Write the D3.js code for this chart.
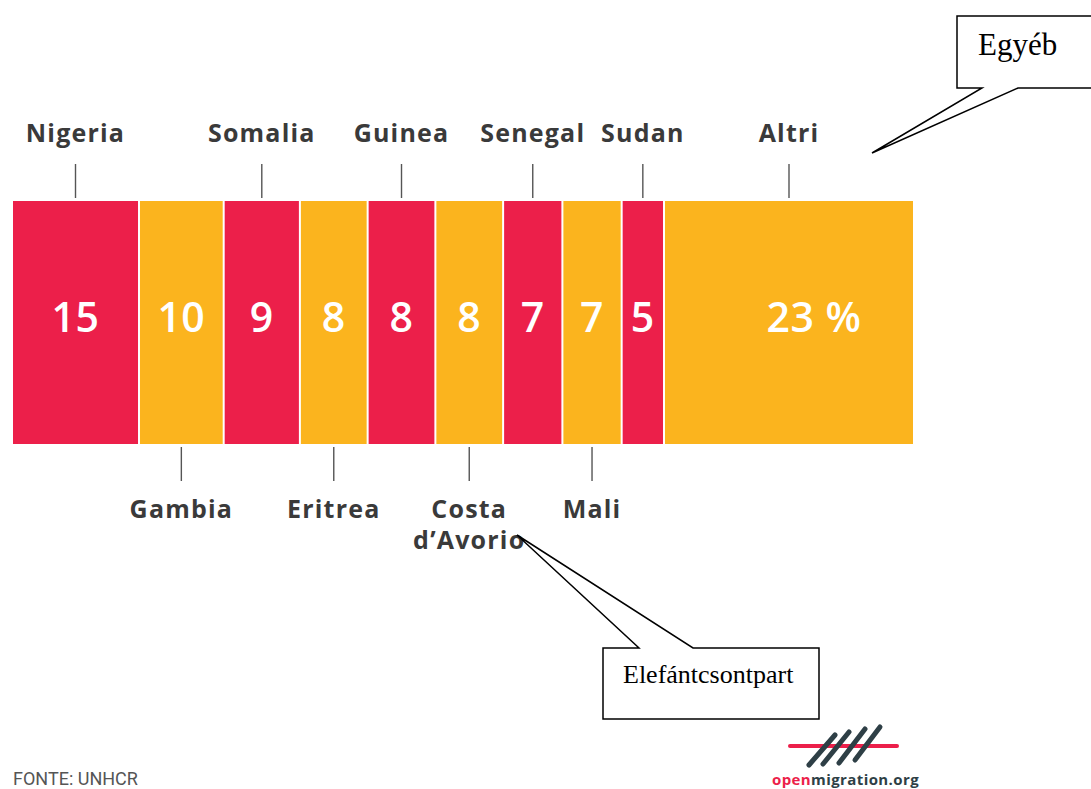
<!DOCTYPE html>
<html>
<head>
<meta charset="utf-8">
<script src="https://cdn.jsdelivr.net/npm/d3@7"></script>
<style>
  html, body { margin: 0; padding: 0; background: #fff; }
  svg { display: block; }
</style>
</head>
<body>
<script>
// ---- DATA ----
const categories = ["Nigeria", "Gambia", "Somalia", "Eritrea", "Guinea", "Costa\nd’Avorio", "Senegal", "Mali", "Sudan", "Altri"];
const values = [15, 10, 9, 8, 8, 8, 7, 7, 5, 23];
const translations = ["Egyéb", "Elefántcsontpart"];
const sourceText = "FONTE: UNHCR";

// ---- LAYOUT ----
const W = 1091, H = 789;
const red = "#EC1F4A", yellow = "#FBB41E", labelColor = "#3a3a3a";
const barTop = 201, barBottom = 444, gap = 2;

const svg = d3.select("body").append("svg").attr("width", W).attr("height", H);

const total = d3.sum(values);
const last = values.length - 1;
const othersStart = total - values[last];
const starts = d3.cumsum([0, ...values.slice(0, -1)]);

// piecewise linear scale (the original draws "Altri" wider than the rest)
const x = d3.scaleLinear().domain([0, othersStart, total]).range([13, 665, 915]);
const y = d3.scaleLinear().domain([0, 1]).range([barBottom, barTop]);

const data = values.map((v, i) => ({
  name: categories[i], value: v, start: starts[i], end: starts[i] + v, i,
  top: i % 2 === 0 || i === last
}));

// segments
svg.append("g").selectAll("rect").data(data).join("rect")
  .attr("x", d => x(d.start))
  .attr("y", y(1))
  .attr("width", d => x(d.end) - x(d.start) - gap)
  .attr("height", y(0) - y(1))
  .attr("fill", d => d.i % 2 === 0 ? red : yellow);

const cx = d => (x(d.start) + x(d.end) - gap) / 2;

// value labels (the "Altri" figure sits right of its segment centre in the original)
svg.append("g").selectAll("text").data(data).join("text")
  .attr("x", d => d.i === last ? cx(d) + 25 : cx(d))
  .attr("y", 332)
  .attr("text-anchor", "middle")
  .attr("font-family", "'Open Sans', sans-serif")
  .attr("font-weight", 600)
  .attr("font-size", 41)
  .attr("letter-spacing", 0.5)
  .attr("fill", "#fff")
  .text(d => d.i === last ? d.value + " %" : d.value);

// ticks
svg.append("g").selectAll("line").data(data).join("line")
  .attr("x1", cx).attr("x2", cx)
  .attr("y1", d => d.top ? 164 : 447)
  .attr("y2", d => d.top ? 198 : 481)
  .attr("stroke", "#555")
  .attr("stroke-width", 1.4);

// category labels
const lab = svg.append("g").selectAll("text").data(data).join("text")
  .attr("x", cx)
  .attr("y", d => d.top ? 142 : 518)
  .attr("text-anchor", "middle")
  .attr("font-family", "'Open Sans', sans-serif")
  .attr("font-weight", 700)
  .attr("font-size", 25)
  .attr("letter-spacing", 1.2)
  .attr("fill", labelColor);
lab.each(function(d) {
  const lines = d.name.split("\n");
  d3.select(this).selectAll("tspan").data(lines).join("tspan")
    .attr("x", cx(d))
    .attr("dy", (l, j) => j === 0 ? 0 : 31)
    .text(l => l);
});

// callout annotations
const callouts = svg.append("g")
  .attr("fill", "#fff").attr("stroke", "#000").attr("stroke-width", 1.5)
  .attr("stroke-linejoin", "miter");

callouts.append("path")
  .attr("d", d3.line()([[957, 16], [1100, 16], [1100, 88], [1018, 88], [872, 153], [982, 88], [957, 88]]) + "Z");
callouts.append("path")
  .attr("d", d3.line()([[603, 648], [639, 648], [517, 535], [693, 648], [819, 648], [819, 719], [603, 719]]) + "Z");

svg.append("text")
  .attr("x", 978).attr("y", 55)
  .attr("font-family", "'Liberation Serif', 'Times New Roman', serif")
  .attr("font-size", 31).attr("fill", "#000")
  .text(translations[0]);
svg.append("text")
  .attr("x", 623).attr("y", 683)
  .attr("font-family", "'Liberation Serif', 'Times New Roman', serif")
  .attr("font-size", 26).attr("fill", "#000")
  .text(translations[1]);

// source
svg.append("text")
  .attr("x", 13).attr("y", 785)
  .attr("font-family", "Roboto, sans-serif")
  .attr("font-size", 18)
  .attr("fill", "#555")
  .text(sourceText);

// logo
const logo = svg.append("g");
logo.append("line")
  .attr("x1", 790).attr("x2", 897).attr("y1", 746).attr("y2", 746)
  .attr("stroke", red).attr("stroke-width", 4).attr("stroke-linecap", "round");
const strokes = [[809, 765, 835, 735], [823, 764, 849, 732], [839, 763, 865, 729], [855, 760, 880, 727]];
logo.selectAll("line.s").data(strokes).join("line").attr("class", "s")
  .attr("x1", d => d[0]).attr("y1", d => d[1]).attr("x2", d => d[2]).attr("y2", d => d[3])
  .attr("stroke", "#2e3f46").attr("stroke-width", 5).attr("stroke-linecap", "round");
const lt = logo.append("text")
  .attr("x", 772).attr("y", 785)
  .attr("font-family", "'Open Sans', sans-serif")
  .attr("font-weight", 700).attr("font-size", 15)
  .attr("letter-spacing", 0.4);
lt.append("tspan").attr("fill", red).text("open");
lt.append("tspan").attr("fill", "#2e3f46").text("migration.org");
</script>
</body>
</html>
